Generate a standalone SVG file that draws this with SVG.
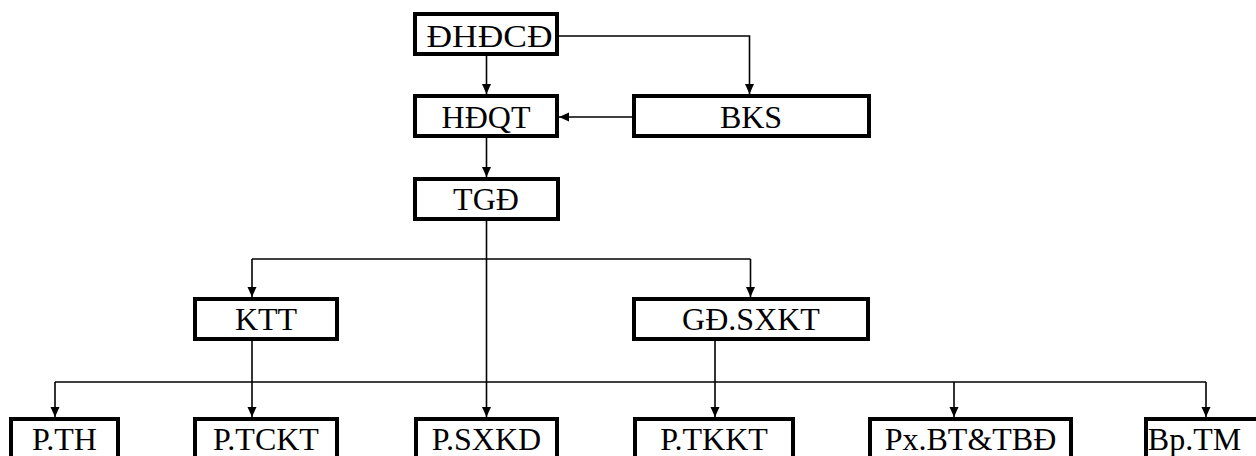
<svg xmlns="http://www.w3.org/2000/svg" width="1256" height="456" viewBox="0 0 1256 456">
<style>
.box{fill:#fff;stroke:#000;stroke-width:4}
.lbl{font-family:"Liberation Serif","Times New Roman",serif;font-size:32px;fill:#000;text-anchor:middle}
.c{fill:none;stroke:#000;stroke-width:1.6}
.a{marker-end:url(#arr)}
</style>
<defs>
<marker id="arr" markerUnits="userSpaceOnUse" markerWidth="10" markerHeight="10" viewBox="0 0 10 10" refX="10" refY="5" orient="auto">
<path d="M0,0.5 L10,5 L0,9.5 Z" fill="#000"/>
</marker>
</defs>
<rect width="1256" height="456" fill="#fff"/>
<g id="connectors">
<path class="c a" d="M486.5,56 V94"/>
<path class="c a" d="M559,36 H749.5 V94"/>
<path class="c a" d="M632,117 H559"/>
<path class="c a" d="M486.5,138 V177"/>
<path class="c a" d="M486.5,221 V417"/>
<path class="c" d="M252,259 H750.5"/>
<path class="c a" d="M252,259 V297"/>
<path class="c a" d="M750.5,259 V297"/>
<path class="c a" d="M252,341 V417"/>
<path class="c a" d="M715,341 V417"/>
<path class="c" d="M55,382 H1206"/>
<path class="c a" d="M55,382 V417"/>
<path class="c a" d="M954,382 V417"/>
<path class="c a" d="M1206,382 V417"/>
</g>
<g id="dhdcd"><rect class="box" x="415" y="14" width="142" height="40"/><text class="lbl" x="489.5" y="46.5" textLength="126" lengthAdjust="spacingAndGlyphs">ĐHĐCĐ</text></g>
<g id="hdqt"><rect class="box" x="415" y="96" width="142" height="40"/><text class="lbl" x="486" y="128">HĐQT</text></g>
<g id="bks"><rect class="box" x="634" y="96" width="235" height="40"/><text class="lbl" x="751" y="128">BKS</text></g>
<g id="tgd"><rect class="box" x="415" y="179" width="143" height="40"/><text class="lbl" x="486" y="210">TGĐ</text></g>
<g id="ktt"><rect class="box" x="195" y="299" width="142" height="40"/><text class="lbl" x="266" y="330">KTT</text></g>
<g id="gdsxkt"><rect class="box" x="634" y="299" width="234" height="40"/><text class="lbl" x="751" y="330">GĐ.SXKT</text></g>
<g id="pth"><rect class="box" x="11" y="419" width="107" height="60"/><text class="lbl" x="64.5" y="450">P.TH</text></g>
<g id="ptckt"><rect class="box" x="195" y="419" width="142" height="60"/><text class="lbl" x="266" y="450">P.TCKT</text></g>
<g id="psxkd"><rect class="box" x="416" y="419" width="141" height="60"/><text class="lbl" x="486.5" y="450">P.SXKD</text></g>
<g id="ptkkt"><rect class="box" x="635" y="419" width="158" height="60"/><text class="lbl" x="714" y="450">P.TKKT</text></g>
<g id="pxbt"><rect class="box" x="870" y="419" width="201" height="60"/><text class="lbl" x="970.5" y="450">Px.BT&amp;TBĐ</text></g>
<g id="bptm"><rect class="box" x="1146" y="419" width="130" height="60"/><text class="lbl" x="1194.5" y="450">Bp.TM</text></g>
</svg>
